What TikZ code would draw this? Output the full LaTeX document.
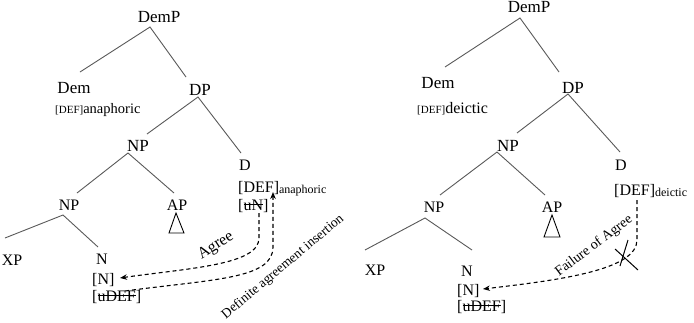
\documentclass[tikz,border=0pt]{standalone}
\usepackage{fontspec}
\setmainfont{Liberation Serif}
\usetikzlibrary{arrows.meta}
\newsavebox{\mystrkbox}
\newcommand{\mystrk}[1]{\sbox{\mystrkbox}{#1}\rlap{\rule[0.3em]{\wd\mystrkbox}{0.8pt}}\usebox{\mystrkbox}}
\tikzset{
  big/.style={font=\fontsize{17}{20}\selectfont, inner sep=0pt, anchor=base},
  lab/.style={font=\fontsize{16}{19}\selectfont, inner sep=0pt, anchor=base},
  feat/.style={font=\fontsize{16}{19}\selectfont, inner sep=0pt, anchor=base west},
  branch/.style={draw=black!65, line width=0.9pt},
  dsh/.style={line width=1.1pt, dash pattern=on 4pt off 3pt},
  tiparrow/.style={-{Stealth[length=7pt,width=5.5pt]}},
  rotlab/.style={inner sep=0pt, anchor=center},
}
\newcommand{\subanaph}{\raisebox{-1.5pt}{\fontsize{12}{14}\selectfont anaphoric}}
\newcommand{\subdeict}{\raisebox{-1.5pt}{\fontsize{12}{14}\selectfont deictic}}
\begin{document}
\begin{tikzpicture}[x=1pt,y=-1pt]
\useasboundingbox (0,0) rectangle (694,322);

% ================= LEFT TREE =================
\node[big] (LDemP) at (159,22) {DemP};
\node[big] (LDem) at (74,93) {Dem};
\node[feat, font=\fontsize{14.5}{17}\selectfont] (LDemf) at (55,113) {{\fontsize{11}{13}\selectfont[DEF]}anaphoric};
\node[big] (LDP) at (200,95) {DP};
\node[big] (LNPa) at (138,151) {NP};
\node[feat] (LD) at (239,170) {D};
\node[feat] (LDf) at (238,192) {[DEF]\subanaph};
\node[feat] (LuN) at (238,210) {[\mystrk{uN}]};
\node[lab] (LNPb) at (69,210) {NP};
\node[lab] (LAP) at (177,210) {AP};
\node[lab] (LXP) at (12,265) {XP};
\node[lab] (LN) at (102,264) {N};
\node[feat] (LNf) at (92,284) {[N]};
\node[feat] (LuDEF) at (92,301) {[\mystrk{uDEF}]};

\coordinate (LDemPb) at (150,27);
\coordinate (LDemt) at (80,72);
\coordinate (LDPt) at (186,77);
\coordinate (LDPb) at (198,97);
\coordinate (LNPat) at (147,134);
\coordinate (LDt) at (241,153);
\coordinate (LNPab) at (128,153);
\coordinate (LNPbt) at (77,193);
\coordinate (LAPt) at (174,193);
\coordinate (LNPbb) at (63,215);
\coordinate (LXPt) at (5,238);
\coordinate (LNt) at (98,247);

\draw[branch] (LDemt) -- (LDemPb) -- (LDPt);
\draw[branch] (LNPat) -- (LDPb) -- (LDt);
\draw[branch] (LNPbt) -- (LNPab) -- (LAPt);
\draw[branch] (LXPt) -- (LNPbb) -- (LNt);
\draw[line width=0.9pt] (176,213) -- (169,233) -- (184,233) -- cycle;

% arrows left
\coordinate (agS) at (259,213);
\coordinate (agE) at (120,278);
\draw[dsh, tiparrow] (agS) -- (259,238) .. controls (259,265) and (190,268) .. (agE);
\coordinate (diS) at (125,291);
\coordinate (diE) at (273,192);
\draw[dsh, tiparrow] (diS) .. controls (215,279) and (273,279) .. (273,247) -- (diE);

\node[rotlab, font=\fontsize{16}{19}\selectfont, rotate=33] (agl) at (216,246) {Agree};
\node[rotlab, font=\fontsize{13.5}{16}\selectfont, rotate=40] (dil) at (283,267) {Definite agreement insertion};

% ================= RIGHT TREE =================
\node[big] (RDemP) at (529,12) {DemP};
\node[big] (RDem) at (438,88) {Dem};
\node[feat, font=\fontsize{16}{19}\selectfont] (RDemf) at (417,113) {{\fontsize{11}{13}\selectfont[DEF]}deictic};
\node[big] (RDP) at (573,93) {DP};
\node[big] (RNPa) at (508,151) {NP};
\node[feat] (RD) at (615,170) {D};
\node[feat] (RDf) at (614,195) {[DEF]\subdeict};
\node[lab] (RNPb) at (434,212) {NP};
\node[lab] (RAP) at (552,212) {AP};
\node[lab] (RXP) at (375,275) {XP};
\node[lab] (RN) at (467,276) {N};
\node[feat] (RNf) at (457,295) {[N]};
\node[feat] (RuDEF) at (457,311) {[\mystrk{uDEF}]};

\coordinate (RDemPb) at (520,18);
\coordinate (RDemt) at (445,67);
\coordinate (RDPt) at (559,72);
\coordinate (RDPb) at (568,94);
\coordinate (RNPat) at (517,133);
\coordinate (RDt) at (620,152);
\coordinate (RNPab) at (497,152);
\coordinate (RNPbt) at (440,195);
\coordinate (RAPt) at (545,195);
\coordinate (RNPbb) at (425,218);
\coordinate (RXPt) at (365,250);
\coordinate (RNt) at (472,250);

\draw[branch] (RDemt) -- (RDemPb) -- (RDPt);
\draw[branch] (RNPat) -- (RDPb) -- (RDt);
\draw[branch] (RNPbt) -- (RNPab) -- (RAPt);
\draw[branch] (RXPt) -- (RNPbb) -- (RNt);
\draw[line width=0.9pt] (552,215) -- (544,237) -- (560,237) -- cycle;

\coordinate (faS) at (637,200);
\coordinate (faE) at (483,289);
\draw[dsh, tiparrow] (faS) -- (637,240) .. controls (637,270) and (560,280) .. (faE);
\draw[line width=1pt] (628,240) -- (620,266);
\draw[line width=1pt] (615,249) -- (638,270);

\node[rotlab, font=\fontsize{14}{17}\selectfont, rotate=37] (fal) at (594,246) {Failure of Agree};
\end{tikzpicture}
\end{document}
